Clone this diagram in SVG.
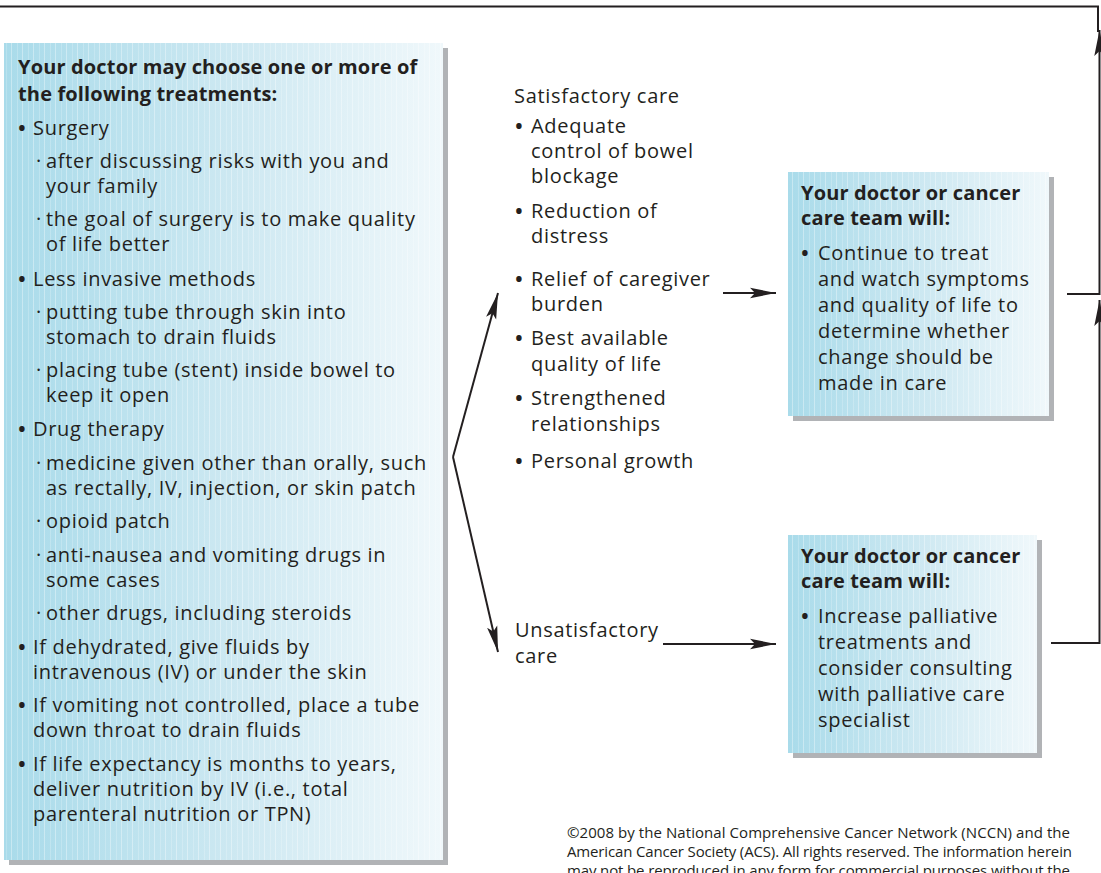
<svg xmlns="http://www.w3.org/2000/svg" width="1101" height="873" viewBox="0 0 1101 873">
<style>
text{font-family:"Open Sans","Noto Sans","Liberation Sans",sans-serif;fill:#231f20;font-size:20px;letter-spacing:0.7px}
.b{font-weight:bold;letter-spacing:0.15px}
.bu{font-size:26px;letter-spacing:0}
.ft{font-size:15px;letter-spacing:0}
.ln{fill:none;stroke:#231f20;stroke-width:2}
.shadow{fill:#b1b3b6}
.panel{fill:url(#grad)}
.tex{fill:url(#stripes)}
</style>
<defs>
<linearGradient id="grad" x1="0" y1="0" x2="1" y2="0">
<stop offset="0" stop-color="#a9dbea"/>
<stop offset="0.55" stop-color="#cfe9f2"/>
<stop offset="1" stop-color="#f0f8fb"/>
</linearGradient>
<pattern id="stripes" x="0" y="0" width="11" height="10" patternUnits="userSpaceOnUse">
<rect x="0" y="0" width="1" height="10" fill="#ffffff" opacity="0.35"/>
<rect x="6" y="0" width="1" height="10" fill="#ffffff" opacity="0.2"/>
</pattern>
<marker id="ah" markerUnits="userSpaceOnUse" markerWidth="28" markerHeight="14" refX="26" refY="7" orient="auto">
<path d="M26,7 L0,1.8 L5,7 L0,12.2 Z" fill="#231f20"/>
</marker>
</defs>

<g id="treatments">
<rect class="shadow" x="9" y="48" width="439" height="817"/>
<rect class="panel" x="4" y="43" width="439" height="817"/>
<rect class="tex" x="4" y="43" width="439" height="817"/>
<text class="b" x="18" y="74">Your doctor may choose one or more of</text>
<text class="b" x="18" y="101">the following treatments:</text>
<text class="bu" x="17" y="137">•</text><text x="33" y="135">Surgery</text>
<text x="36" y="168">·</text><text x="46" y="168">after discussing risks with you and</text>
<text x="46" y="193">your family</text>
<text x="36" y="226">·</text><text x="46" y="226">the goal of surgery is to make quality</text>
<text x="46" y="251">of life better</text>
<text class="bu" x="17" y="288">•</text><text x="33" y="286">Less invasive methods</text>
<text x="36" y="319">·</text><text x="46" y="319">putting tube through skin into</text>
<text x="46" y="344">stomach to drain fluids</text>
<text x="36" y="377">·</text><text x="46" y="377">placing tube (stent) inside bowel to</text>
<text x="46" y="402">keep it open</text>
<text class="bu" x="17" y="438">•</text><text x="33" y="436">Drug therapy</text>
<text x="36" y="470">·</text><text x="46" y="470">medicine given other than orally, such</text>
<text x="46" y="495">as rectally, IV, injection, or skin patch</text>
<text x="36" y="528">·</text><text x="46" y="528">opioid patch</text>
<text x="36" y="562">·</text><text x="46" y="562">anti-nausea and vomiting drugs in</text>
<text x="46" y="587">some cases</text>
<text x="36" y="620">·</text><text x="46" y="620">other drugs, including steroids</text>
<text class="bu" x="17" y="656">•</text><text x="33" y="654">If dehydrated, give fluids by</text>
<text x="33" y="679">intravenous (IV) or under the skin</text>
<text class="bu" x="17" y="714">•</text><text x="33" y="712">If vomiting not controlled, place a tube</text>
<text x="33" y="737">down throat to drain fluids</text>
<text class="bu" x="17" y="773">•</text><text x="33" y="771">If life expectancy is months to years,</text>
<text x="33" y="796">deliver nutrition by IV (i.e., total</text>
<text x="33" y="821">parenteral nutrition or TPN)</text>
</g>

<g id="satisfactory">
<text x="514" y="103">Satisfactory care</text>
<text class="bu" x="514" y="135">•</text><text x="531" y="133">Adequate</text>
<text x="531" y="158">control of bowel</text>
<text x="531" y="183">blockage</text>
<text class="bu" x="514" y="220">•</text><text x="531" y="218">Reduction of</text>
<text x="531" y="243">distress</text>
<text class="bu" x="514" y="288">•</text><text x="531" y="286">Relief of caregiver</text>
<text x="531" y="311">burden</text>
<text class="bu" x="514" y="347">•</text><text x="531" y="345">Best available</text>
<text x="531" y="371">quality of life</text>
<text class="bu" x="514" y="407">•</text><text x="531" y="405">Strengthened</text>
<text x="531" y="431">relationships</text>
<text class="bu" x="514" y="470">•</text><text x="531" y="468">Personal growth</text>
</g>

<g id="unsatisfactory">
<text x="515" y="637">Unsatisfactory</text>
<text x="515" y="663">care</text>
</g>

<g id="continue-box">
<rect class="shadow" x="793" y="177" width="261" height="244"/>
<rect class="panel" x="788" y="172" width="261" height="244"/>
<rect class="tex" x="788" y="172" width="261" height="244"/>
<text class="b" x="801" y="200">Your doctor or cancer</text>
<text class="b" x="801" y="225">care team will:</text>
<text class="bu" x="800" y="262">•</text><text x="818" y="260">Continue to treat</text>
<text x="818" y="286">and watch symptoms</text>
<text x="818" y="312">and quality of life to</text>
<text x="818" y="338">determine whether</text>
<text x="818" y="364">change should be</text>
<text x="818" y="390">made in care</text>
</g>

<g id="increase-box">
<rect class="shadow" x="793" y="540" width="249" height="218"/>
<rect class="panel" x="788" y="535" width="249" height="218"/>
<rect class="tex" x="788" y="535" width="249" height="218"/>
<text class="b" x="801" y="563">Your doctor or cancer</text>
<text class="b" x="801" y="588">care team will:</text>
<text class="bu" x="800" y="625">•</text><text x="818" y="623">Increase palliative</text>
<text x="818" y="649">treatments and</text>
<text x="818" y="675">consider consulting</text>
<text x="818" y="701">with palliative care</text>
<text x="818" y="727">specialist</text>
</g>

<g id="connectors">
<path class="ln" d="M0,6.5 H1098 V32"/>
<path class="ln" d="M453,457 L498,293" marker-end="url(#ah)"/>
<path class="ln" d="M453,457 L498,652" marker-end="url(#ah)"/>
<path class="ln" d="M723,293 H776" marker-end="url(#ah)"/>
<path class="ln" d="M663,644 H776" marker-end="url(#ah)"/>
<path class="ln" d="M1067,294 H1099.5 V30" marker-end="url(#ah)"/>
<path class="ln" d="M1051,643 H1099.5 V300" marker-end="url(#ah)"/>
</g>

<g id="credit">
<text class="ft" x="567" y="838" textLength="503" lengthAdjust="spacing">©2008 by the National Comprehensive Cancer Network (NCCN) and the</text>
<text class="ft" x="567" y="857" textLength="505" lengthAdjust="spacing">American Cancer Society (ACS). All rights reserved. The information herein</text>
<text class="ft" x="567" y="876" textLength="503" lengthAdjust="spacing">may not be reproduced in any form for commercial purposes without the</text>
</g>
</svg>
